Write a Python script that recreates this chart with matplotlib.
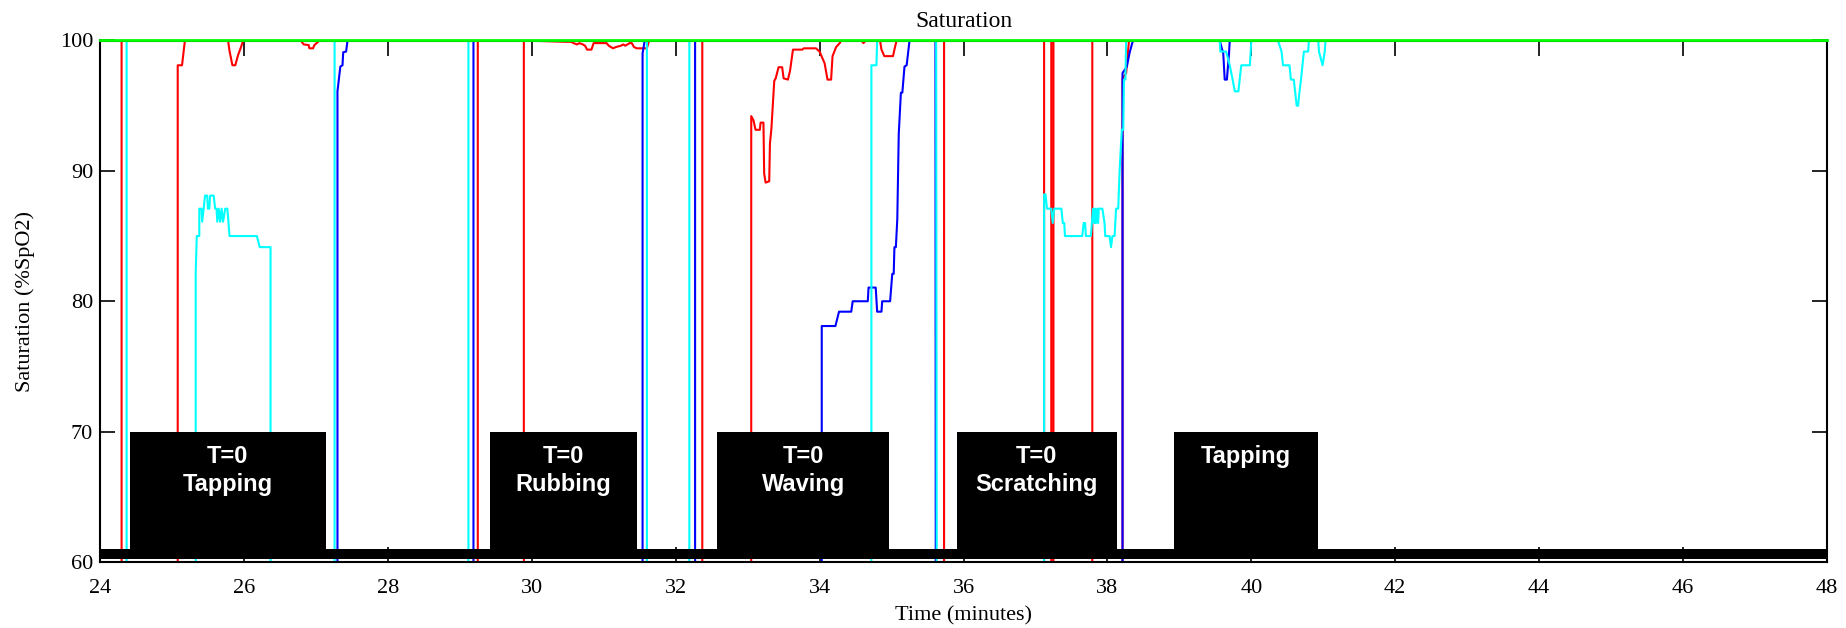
import matplotlib
matplotlib.use("Agg")
import matplotlib.pyplot as plt

plt.rcParams['font.family'] = ['Liberation Serif', 'DejaVu Serif']

# (time in minutes, SpO2 %) per sensor, 0 = dropout
red_pts = [(24.00, 100), (24.30, 100), (24.30, 0), (25.08, 0), (25.08, 98.1), (25.14, 98.1), (25.18, 100),
           (25.78, 100), (25.80, 99.2), (25.84, 98.1), (25.88, 98.1), (25.92, 98.9), (25.96, 99.5), (25.99, 100),
           (26.79, 100), (26.83, 99.7), (26.90, 99.65), (26.91, 99.4), (26.96, 99.4), (26.98, 99.65), (27.05, 100),
           (29.25, 100), (29.25, 0), (29.89, 0), (29.89, 100),
           (30.47, 99.9), (30.55, 99.9), (30.58, 99.8), (30.63, 99.7), (30.66, 99.8), (30.71, 99.7), (30.74, 99.6),
           (30.77, 99.3), (30.83, 99.3), (30.86, 99.8), (31.04, 99.8), (31.07, 99.6), (31.13, 99.4), (31.17, 99.5),
           (31.24, 99.6), (31.27, 99.7), (31.30, 99.6), (31.36, 99.8), (31.39, 99.8), (31.42, 99.5), (31.46, 99.4),
           (31.60, 99.4), (31.63, 100),
           (32.37, 100), (32.37, 0), (33.05, 0), (33.05, 94.2), (33.08, 93.9), (33.11, 93.15), (33.17, 93.15),
           (33.18, 93.7), (33.22, 93.7), (33.23, 89.8), (33.25, 89.1), (33.30, 89.2), (33.31, 92.1), (33.33, 93.2),
           (33.37, 96.9), (33.39, 97.1), (33.43, 97.95), (33.48, 97.95), (33.50, 97.1), (33.56, 97.0), (33.59, 97.7),
           (33.63, 99.3), (33.76, 99.3), (33.78, 99.4), (33.95, 99.4), (34.00, 99.15), (34.07, 98.25), (34.11, 97.0),
           (34.16, 97.0), (34.18, 98.8), (34.23, 99.5), (34.28, 99.8), (34.30, 100),
           (34.58, 100), (34.61, 99.8), (34.64, 100),
           (34.84, 100), (34.86, 99.3), (34.90, 98.8), (35.02, 98.8), (35.04, 99.3), (35.07, 100),
           (35.73, 100), (35.73, 0), (37.12, 0), (37.12, 100), (37.22, 100), (37.22, 0), (37.25, 0), (37.25, 100),
           (37.79, 100), (37.79, 0), (38.21, 0), (38.21, 97.1), (38.26, 97.5), (38.30, 100), (48.00, 100)]

blue_pts = [(24.00, 0), (27.30, 0), (27.30, 96.1), (27.34, 98.0), (27.37, 98.1), (27.38, 99.1), (27.42, 99.15), (27.44, 100),
            (29.19, 100), (29.19, 0), (31.54, 0), (31.54, 99.0), (31.57, 100),
            (32.27, 100), (32.27, 0), (34.03, 0), (34.03, 78.1), (34.22, 78.1), (34.27, 79.2), (34.44, 79.2),
            (34.46, 80.0), (34.67, 80.0), (34.68, 81.05), (34.78, 81.05), (34.80, 79.2), (34.86, 79.2), (34.87, 80.0),
            (34.98, 80.0), (35.01, 82.1), (35.03, 82.1), (35.04, 84.15), (35.06, 84.15), (35.08, 86.3), (35.10, 92.8),
            (35.13, 96.0), (35.15, 96.0), (35.18, 98.0), (35.21, 98.1), (35.25, 100),
            (35.61, 100), (35.62, 0), (38.21, 0), (38.21, 97.5), (38.27, 98.0), (38.31, 99.1), (38.35, 99.9), (38.36, 100),
            (39.56, 100), (39.61, 99.0), (39.63, 97.0), (39.66, 97.0), (39.69, 99.0), (39.70, 100), (48.00, 100)]

cyan_pts = [(24.00, 100), (24.37, 100), (24.37, 0), (25.33, 0), (25.33, 82.2), (25.345, 85.0), (25.38, 85.0), (25.38, 87.1),
            (25.41, 87.1), (25.42, 86.1), (25.44, 87.1), (25.46, 88.1), (25.49, 88.1), (25.50, 87.1), (25.52, 87.1),
            (25.53, 88.1), (25.58, 88.1), (25.60, 87.1), (25.62, 87.1), (25.63, 86.1), (25.65, 87.1), (25.67, 86.1),
            (25.69, 87.1), (25.71, 86.1), (25.74, 87.1), (25.77, 87.1), (25.80, 85.0), (26.18, 85.0), (26.22, 84.15),
            (26.37, 84.15), (26.37, 0),
            (27.26, 0), (27.26, 100), (29.12, 100), (29.12, 0), (31.60, 0), (31.60, 100), (32.19, 100), (32.19, 0),
            (34.72, 0), (34.72, 98.1), (34.79, 98.1), (34.80, 100), (35.62, 100), (35.64, 0),
            (37.12, 0), (37.12, 88.2), (37.14, 88.2), (37.16, 87.1), (37.22, 87.1), (37.24, 86.0), (37.26, 87.1),
            (37.36, 87.1), (37.38, 86.0), (37.40, 86.0), (37.41, 85.0), (37.65, 85.0), (37.67, 86.0), (37.69, 86.0),
            (37.70, 85.0), (37.77, 85.0), (37.80, 87.1), (37.81, 87.1), (37.82, 86.0), (37.83, 87.1), (37.84, 86.0),
            (37.86, 87.1), (37.87, 86.0), (37.88, 87.1), (37.93, 87.1), (37.96, 86.0), (37.97, 85.0), (38.03, 85.0),
            (38.05, 84.15), (38.07, 85.0), (38.10, 85.0), (38.12, 87.1), (38.15, 87.1), (38.17, 90.1), (38.20, 93.15),
            (38.22, 93.15), (38.23, 97.0), (38.25, 97.0), (38.26, 100),
            (39.56, 100), (39.57, 99.15), (39.65, 99.15), (39.70, 98.1), (39.74, 97.0), (39.77, 96.1), (39.82, 96.1),
            (39.86, 98.1), (39.98, 98.1), (40.00, 100),
            (40.37, 100), (40.42, 99.15), (40.44, 98.1), (40.53, 98.1), (40.55, 97.0), (40.59, 97.0), (40.63, 95.0),
            (40.65, 95.0), (40.67, 96.1), (40.69, 97.0), (40.73, 99.15), (40.79, 99.15), (40.80, 100),
            (40.93, 100), (40.94, 99.15), (40.99, 98.1), (41.02, 99.15), (41.03, 100), (48.00, 100)]

green_t = [24.0, 48.0]
green_v = [100, 100]

# event marker channel
block_start = [24.41, 29.42, 32.58, 35.91, 38.93]
block_end = [27.14, 31.46, 34.97, 38.13, 40.92]
block_text = ['T=0\nTapping', 'T=0\nRubbing', 'T=0\nWaving', 'T=0\nScratching', 'Tapping']
marker_low = 61
marker_high = 70

xticks = list(range(24, 49, 2))
yticks = [60, 70, 80, 90, 100]

fig = plt.figure(figsize=(18.46, 6.28), dpi=100)
ax = fig.add_axes([100 / 1846, 66 / 628, 1727 / 1846, 521.5 / 628])

for pts, c in [(red_pts, '#ff0000'), (blue_pts, '#0000ff'), (cyan_pts, '#00ffff')]:
    t, v = zip(*pts)
    ax.plot(t, v, color=c, lw=1.5, zorder=2)

mx = [24.0]
my = [marker_low]
for s, e in zip(block_start, block_end):
    mx += [s, s, e, e]
    my += [marker_low, marker_high, marker_high, marker_low]
mx.append(48.0)
my.append(marker_low)
ax.fill_between(mx, 60.2, my, color='black', lw=0, zorder=3)

for s, e, txt in zip(block_start, block_end, block_text):
    ax.text((s + e) / 2, 69.0, txt, ha='center', va='top', color='white',
            fontsize=17, fontweight='bold', family=['Liberation Sans', 'DejaVu Sans'],
            linespacing=1.3, zorder=4)

ax.plot(green_t, green_v, color='#00ff00', lw=2, zorder=5, clip_on=False)

ax.set_xlim(24, 48)
ax.set_ylim(60, 100)
ax.set_xticks(xticks)
ax.set_yticks(yticks)
ax.tick_params(direction='in', length=11, width=1.2, top=True, right=True, labelsize=16)
ax.tick_params(axis='x', pad=12)
ax.tick_params(axis='y', pad=5)
for sp in ax.spines.values():
    sp.set_linewidth(1.5)

ax.set_title('Saturation', fontsize=17, pad=10)
ax.set_xlabel('Time (minutes)', fontsize=16, labelpad=6)
ax.set_ylabel('Saturation (%SpO2)', fontsize=16, labelpad=18)

fig.savefig('out.png', dpi=100)
